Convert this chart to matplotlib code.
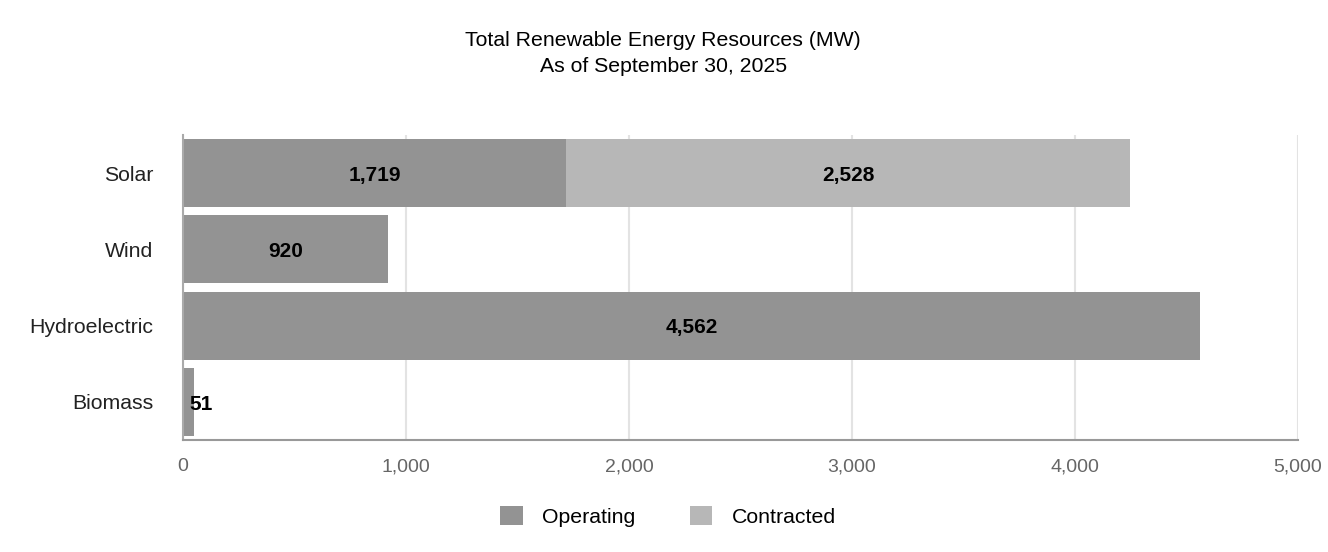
import matplotlib.pyplot as plt
import numpy as np

plt.rcParams['font.family'] = ['Liberation Sans', 'DejaVu Sans']

categories = ["Solar", "Wind", "Hydroelectric", "Biomass"]
operating = [1719, 920, 4562, 51]
contracted = [2528, 0, 0, 0]
xticks = [0, 1000, 2000, 3000, 4000, 5000]

op_color = "#939393"
con_color = "#b7b7b7"

fig = plt.figure(figsize=(13.28, 5.52), dpi=100)
ax = fig.add_axes([0.1378, 0.2029, 0.8396, 0.5525])

y = np.arange(len(categories))
h = 0.89
ax.barh(y, operating, height=h, color=op_color, label="Operating")
ax.barh(y, contracted, height=h, left=operating, color=con_color, label="Contracted")

def fmt(v):
    return f"{v:,}"

# labels in the middle of each segment, small ones just inside the left edge
for i in range(len(categories)):
    op = operating[i]
    if op > 0:
        if op < 200:
            ax.text(op * 0.55, y[i] + 0.03, fmt(op), ha="left", va="center",
                    fontsize=15, fontweight="bold", color="black")
        else:
            ax.text(op / 2, y[i] + 0.03, fmt(op), ha="center", va="center",
                    fontsize=15, fontweight="bold", color="black")
    c = contracted[i]
    if c > 0:
        ax.text(op + c / 2, y[i] + 0.03, fmt(c), ha="center", va="center",
                fontsize=15, fontweight="bold", color="black")

ax.set_ylim(len(categories) - 0.5, -0.5)
ax.set_xlim(0, 5000)
ax.set_yticks(y)
ax.set_yticklabels(categories, fontsize=15.3, color="#222222")
ax.set_xticks(xticks)
ax.set_xticklabels([fmt(t) for t in xticks], fontsize=14, color="#666666")
ax.tick_params(axis="both", length=0)
ax.tick_params(axis="y", pad=21.5)
ax.tick_params(axis="x", pad=13)

ax.grid(axis="x", color="#e3e3e3", linewidth=1.5)
ax.set_axisbelow(True)
for s in ["top", "right"]:
    ax.spines[s].set_visible(False)
ax.spines["left"].set_color("#aaaaaa")
ax.spines["left"].set_linewidth(1.5)
ax.spines["bottom"].set_color("#999999")
ax.spines["bottom"].set_linewidth(1.5)

fig.text(0.4995, 0.903, "Total Renewable Energy Resources (MW)\nAs of September 30, 2025",
         ha="center", va="center", fontsize=15.3, linespacing=1.45)

fig.legend(loc="center", bbox_to_anchor=(0.503, 0.065), ncol=2, frameon=False,
           fontsize=15.3, handlelength=1.05, handleheight=1.05, columnspacing=2.6,
           handletextpad=0.9)

fig.savefig("out.png", dpi=100)
